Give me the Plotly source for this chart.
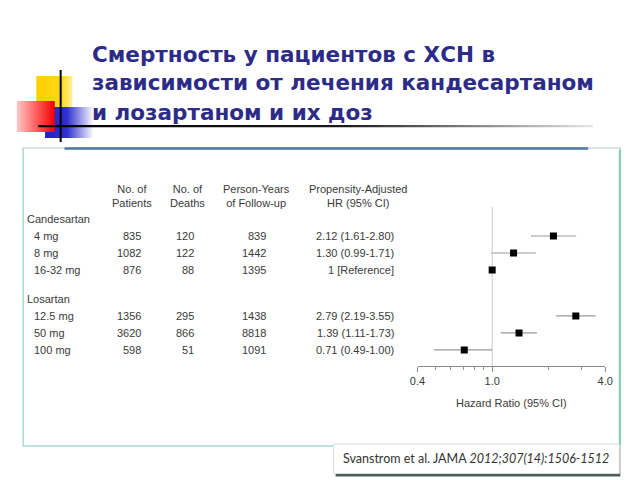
import plotly.graph_objects as go
import math

W, H = 640, 480

def px(x):
    return x / W

def py(y):
    return 1 - y / H

# ---------------- data ----------------
title_lines = ["Смертность у пациентов с ХСН в",
               "зависимости от лечения кандесартаном",
               "и лозартаном и их доз"]
groups = ["Candesartan", "Losartan"]
doses = ["4 mg", "8 mg", "16-32 mg", "12.5 mg", "50 mg", "100 mg"]
group_idx = [0, 0, 0, 1, 1, 1]
patients = [835, 1082, 876, 1356, 3620, 598]
deaths = [120, 122, 88, 295, 866, 51]
person_years = [839, 1442, 1395, 1438, 8818, 1091]
hr = [2.12, 1.30, 1.00, 2.79, 1.39, 0.71]
hr_lo = [1.61, 0.99, None, 2.19, 1.11, 0.49]
hr_hi = [2.80, 1.71, None, 3.55, 1.73, 1.00]
hr_labels = ["2.12 (1.61-2.80)", "1.30 (0.99-1.71)", "1 [Reference]",
             "2.79 (2.19-3.55)", "1.39 (1.11-1.73)", "0.71 (0.49-1.00)"]
col_headers = ["No. of<br>Patients", "No. of<br>Deaths",
               "Person-Years<br>of Follow-up", "Propensity-Adjusted<br>HR (95% CI)"]
x_ticks = [0.4, 1.0, 4.0]
x_ticktext = ["0.4", "1.0", "4.0"]
x_minor = [0.5, 0.6, 0.7, 0.8, 0.9, 2, 3]
x_title = "Hazard Ratio (95% CI)"
citation_plain = "Svanstrom et al. JAMA "
citation_italic = "2012;307(14):1506-1512"

# ---------------- row layout ----------------
GROUP_GAP = 0.7
group_pos = []
row_pos = []
pos = 0.0
for g in range(len(groups)):
    group_pos.append(pos)
    pos += 1
    for i, gi in enumerate(group_idx):
        if gi == g:
            row_pos.append(pos)
            pos += 1
    pos += GROUP_GAP

ROW_PX = 17.0
TOP_PX = 219.0
Y_TOP_PX, Y_BOT_PX = 180.0, 366.0
y_range = [(Y_BOT_PX - TOP_PX) / ROW_PX, (Y_TOP_PX - TOP_PX) / ROW_PX]
header_y = (195.5 - TOP_PX) / ROW_PX
refline_top = (207 - TOP_PX) / ROW_PX

TXT = "#3a3a3a"
FONT = "Liberation Sans"

fig = go.Figure()

# ---------------- decorations (pixel overlay axis) ----------------
def rect_trace(x0, y0, x1, y1, colorscale, orient="horizontal"):
    return go.Scatter(x=[x0, x1, x1, x0, x0], y=[y0, y0, y1, y1, y0],
                      xaxis="x2", yaxis="y2", mode="lines", fill="toself",
                      line=dict(width=0), hoverinfo="skip",
                      fillgradient=dict(type=orient, colorscale=colorscale))

fig.add_trace(rect_trace(29, 76, 66, 108, [[0, "#ffd000"], [0.7, "#ffd819"], [1, "#fff0a0"]]))
fig.add_trace(rect_trace(38, 107, 88, 138, [[0, "#2020c8"], [0.45, "#3030d0"], [1, "#ffffff"]]))
fig.add_trace(rect_trace(9, 101, 48, 132, [[0, "#ffc8c8"], [0.5, "#ff6060"], [1, "#f00000"]]))
fig.add_trace(rect_trace(31, 125, 600, 127.2, [[0, "#000000"], [0.55, "#1a1a1a"], [1, "#e6e6e6"]]))
fig.add_trace(go.Scatter(x=[54, 54], y=[70, 142], xaxis="x2", yaxis="y2", mode="lines",
                         line=dict(color="#000000", width=2), hoverinfo="skip"))

# ---------------- forest plot ----------------
fig.add_trace(go.Scatter(x=[1, 1], y=[refline_top, y_range[0]], mode="lines",
                         line=dict(color="#cfcfcf", width=1), hoverinfo="skip"))
err_plus = [(h if h is not None else v) - v for v, h in zip(hr, hr_hi)]
err_minus = [v - (l if l is not None else v) for v, l in zip(hr, hr_lo)]
fig.add_trace(go.Scatter(
    x=hr, y=row_pos, mode="markers",
    marker=dict(symbol="square", size=7, color="#000000"),
    error_x=dict(type="data", symmetric=False, array=err_plus, arrayminus=err_minus,
                 color="#9a9a9a", thickness=1.2, width=0),
    hoverinfo="skip"))

# ---------------- shapes: boxes ----------------
shapes = []
shapes.append(dict(type="rect", xref="paper", yref="paper", x0=px(15.5), x1=px(628), y0=py(446), y1=py(148),
                    line=dict(color="#a9dacd", width=1.5), fillcolor="rgba(0,0,0,0)", layer="below"))
shapes.append(dict(type="line", xref="paper", yref="paper", x0=px(15.5), x1=px(628), y0=py(148), y1=py(148),
                    line=dict(color="#e4e4e4", width=1.5)))
shapes.append(dict(type="line", xref="paper", yref="paper", x0=px(627.5), x1=px(627.5), y0=py(446), y1=py(150),
                    line=dict(color="#86cbb8", width=2)))
shapes.append(dict(type="line", xref="paper", yref="paper", x0=px(58), x1=px(595), y0=py(148.5), y1=py(148.5),
                    line=dict(color="#4d74aa", width=2.5)))
shapes.append(dict(type="rect", xref="paper", yref="paper", x0=px(336), x1=px(628), y0=py(476.5), y1=py(447),
                    line=dict(width=0), fillcolor="#4a5f58"))
shapes.append(dict(type="rect", xref="paper", yref="paper", x0=px(334), x1=px(627), y0=py(473.5), y1=py(444),
                    line=dict(color="#dcdcdc", width=1), fillcolor="#ffffff"))

# ---------------- annotations ----------------
ann = []
title_y_px = [54, 83, 112]
for t, yy in zip(title_lines, title_y_px):
    ann.append(dict(text=t, x=px(84), y=py(yy), xref="paper", yref="paper",
                    xanchor="left", yanchor="middle", showarrow=False,
                    font=dict(family="DejaVu Sans", size=21.5, color="#2c2b88", weight="bold")))

header_cx = [127, 184, 255, 359]
for htxt, cx in zip(col_headers, header_cx):
    ann.append(dict(text=htxt, x=px(cx), y=header_y, xref="paper", yref="y",
                    xanchor="center", yanchor="middle", align="center", showarrow=False,
                    font=dict(family=FONT, size=11, color=TXT)))

for g, gname in enumerate(groups):
    ann.append(dict(text=gname, x=px(17), y=group_pos[g], xref="paper", yref="y",
                    xanchor="left", yanchor="middle", showarrow=False,
                    font=dict(family=FONT, size=11, color=TXT)))

col_right = [138, 193, 267, 398]
for i in range(len(doses)):
    ann.append(dict(text=doses[i], x=px(25), y=row_pos[i], xref="paper", yref="y",
                    xanchor="left", yanchor="middle", showarrow=False,
                    font=dict(family=FONT, size=11, color=TXT)))
    for vals, rx in zip([patients, deaths, person_years, hr_labels], col_right):
        ann.append(dict(text=str(vals[i]), x=px(rx), y=row_pos[i], xref="paper", yref="y",
                        xanchor="right", yanchor="middle", showarrow=False,
                        font=dict(family=FONT, size=11, color=TXT)))

ann.append(dict(text=citation_plain + "<i>" + citation_italic + "</i>",
                x=px(342), y=py(458.5), xref="paper", yref="paper",
                xanchor="left", yanchor="middle", showarrow=False,
                font=dict(family="Lato", size=12.5, color="#333333")))

fig.update_layout(
    width=W, height=H, margin=dict(l=0, r=0, t=0, b=0),
    paper_bgcolor="#ffffff", plot_bgcolor="rgba(0,0,0,0)",
    showlegend=False, shapes=shapes, annotations=ann,
    xaxis=dict(type="log", domain=[px(420), px(612.5)],
               range=[math.log10(0.4), math.log10(4.0)],
               tickvals=x_ticks, ticktext=x_ticktext,
               ticks="outside", ticklen=5, tickcolor="#8a8a8a", tickwidth=1,
               minor=dict(tickvals=x_minor, ticks="outside", ticklen=3, tickcolor="#9a9a9a", showgrid=False),
               showline=True, linecolor="#8a8a8a", linewidth=1,
               showgrid=False, zeroline=False,
               tickfont=dict(family=FONT, size=11, color=TXT),
               title=dict(text=x_title, font=dict(family=FONT, size=11, color=TXT), standoff=13),
               anchor="y", fixedrange=True),
    yaxis=dict(domain=[py(Y_BOT_PX), py(Y_TOP_PX)], range=y_range, visible=False,
               anchor="x", fixedrange=True),
    xaxis2=dict(domain=[0, 1], range=[0, W], visible=False, anchor="y2", fixedrange=True),
    yaxis2=dict(domain=[0, 1], range=[H, 0], visible=False, anchor="x2", fixedrange=True),
)

fig.write_html("out.html")
